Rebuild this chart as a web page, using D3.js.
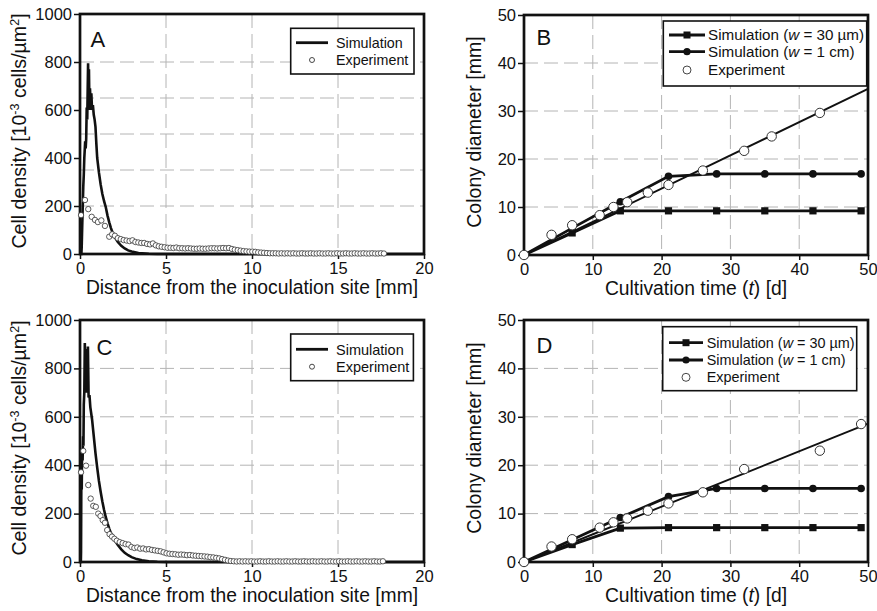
<!DOCTYPE html>
<html>
<head>
<meta charset="utf-8">
<script src="https://cdn.jsdelivr.net/npm/d3@7"></script>
<style>
  body { margin: 0; background: #fff; }
  text { font-family: "Liberation Sans", Arial, Helvetica, sans-serif; fill: #111; }
</style>
</head>
<body>
<div id="chart"></div>
<script>
// ---- data: cell density profiles (panels A, C) ----
const distTicks = [0, 5, 10, 15, 20]
const densTicks = [0, 200, 400, 600, 800, 1000]
const distGrid = [5, 10, 15]
const densGridA = [200, 350, 500, 650, 800]
const densGridC = [200, 400, 600, 800]

// [distance mm, density 10^-3 cells/um^2]
const simA = [[0,0],[0.08,0],[0.1,30],[0.13,120],[0.16,200],[0.19,280],[0.22,330],[0.25,400],[0.28,440],[0.3,470],
  [0.33,440],[0.36,480],[0.39,610],[0.42,560],[0.45,700],[0.47,795],[0.49,640],[0.52,770],[0.55,600],[0.58,690],
  [0.62,620],[0.66,670],[0.7,600],[0.75,620],[0.8,580],[0.85,560],[0.9,530],[0.95,460],[1.0,400],[1.1,340],
  [1.2,290],[1.3,250],[1.4,220],[1.5,195],[1.6,160],[1.7,132],[1.8,108],[1.9,88],[2.0,72],[2.2,50],[2.4,34],
  [2.6,23],[2.8,15],[3.0,10],[3.4,4],[4.0,1],[4.5,0],[20,0]]

const expA = [[0.06,162],[0.29,225],[0.48,187],[0.68,155],[0.87,142],[1.04,133],[1.24,140],[1.45,117],[1.7,72],[1.87,82],
  [2.03,76],[2.2,66],[2.37,62],[2.54,58],[2.71,56],[2.88,54],[3.05,57],[3.22,50],[3.39,48],[3.56,46],
  [3.73,46],[3.9,42],[4.07,40],[4.24,44],[4.41,36],[4.58,32],[4.75,30],[4.92,28],[5.09,26],[5.26,26],
  [5.43,25],[5.6,27],[5.77,24],[5.94,24],[6.11,23],[6.28,24],[6.45,23],[6.62,22],[6.79,22],[6.96,23],
  [7.13,22],[7.3,22],[7.47,23],[7.64,24],[7.81,24],[7.98,23],[8.15,24],[8.32,25],[8.49,24],[8.66,25],
  [8.83,21],[9.0,18],[9.17,16],[9.34,14],[9.51,12],[9.68,11],[9.85,10],[10.02,10],[10.19,9],[10.36,7],
  [10.53,6],[10.7,5],[10.87,4],[11.04,3],[11.21,3],[11.38,3],[11.55,2],[11.72,3],[11.89,2],[12.06,3],
  [12.23,2],[12.4,3],[12.57,2],[12.74,2],[12.91,3],[13.08,2],[13.25,2],[13.42,3],[13.59,2],[13.76,2],
  [13.93,3],[14.1,2],[14.27,2],[14.44,3],[14.61,2],[14.78,2],[14.95,3],[15.12,2],[15.29,2],[15.46,3],
  [15.63,2],[15.8,2],[15.97,3],[16.14,2],[16.31,2],[16.48,3],[16.65,2],[16.82,2],[16.99,3],[17.16,2],
  [17.33,2],[17.5,3],[17.67,2]]

const simC = [[0,0],[0.05,0],[0.06,40],[0.08,380],[0.1,300],[0.12,460],[0.15,420],[0.18,520],[0.2,480],[0.22,650],
  [0.25,700],[0.28,905],[0.3,820],[0.33,760],[0.36,700],[0.4,880],[0.43,720],[0.46,890],[0.5,680],[0.55,690],
  [0.6,640],[0.7,590],[0.8,520],[0.9,450],[1.0,390],[1.1,335],[1.2,290],[1.3,250],[1.4,215],[1.5,185],
  [1.6,160],[1.7,138],[1.8,118],[1.9,104],[2.0,92],[2.2,70],[2.4,52],[2.6,38],[2.8,28],[3.0,20],
  [3.3,12],[3.6,7],[4.0,3],[4.5,1],[5,0],[20,0]]

const expC = [[0.06,371],[0.19,459],[0.35,398],[0.48,318],[0.62,262],[0.77,232],[0.92,228],[1.06,200],[1.19,190],[1.32,173],
  [1.45,162],[1.58,132],[1.72,115],[1.86,105],[2.0,96],[2.14,88],[2.31,82],[2.48,78],[2.65,74],[2.82,72],
  [2.99,62],[3.16,58],[3.33,60],[3.5,55],[3.67,56],[3.84,52],[4.01,53],[4.18,50],[4.35,48],[4.52,46],
  [4.69,44],[4.86,40],[5.03,36],[5.2,34],[5.37,33],[5.54,32],[5.71,30],[5.88,31],[6.05,30],[6.22,28],
  [6.39,29],[6.56,27],[6.73,26],[6.9,25],[7.07,24],[7.24,23],[7.41,22],[7.58,20],[7.75,19],[7.92,17],
  [8.09,15],[8.26,12],[8.43,9],[8.6,6],[8.77,4],[8.94,3],[9.11,2],[9.28,3],[9.45,2],[9.62,3],
  [9.79,2],[9.96,3],[10.13,2],[10.3,2],[10.47,3],[10.64,2],[10.81,2],[10.98,3],[11.15,2],[11.32,2],
  [11.49,3],[11.66,2],[11.83,2],[12.0,3],[12.17,2],[12.34,2],[12.51,3],[12.68,2],[12.85,2],[13.02,3],
  [13.19,2],[13.36,2],[13.53,3],[13.7,2],[13.87,2],[14.04,3],[14.21,2],[14.38,2],[14.55,3],[14.72,2],
  [14.89,2],[15.06,3],[15.23,2],[15.4,2],[15.57,3],[15.74,2],[15.91,2],[16.08,3],[16.25,2],[16.42,2],
  [16.59,3],[16.76,2],[16.93,2],[17.1,3],[17.27,2],[17.44,2],[17.61,3]]

// ---- data: colony diameter vs time (panels B, D) ----
const dayTicks = [0, 10, 20, 30, 40, 50]
const diamTicks = [0, 10, 20, 30, 40, 50]
const dayGrid = [10, 20, 30, 40]
const diamGrid = [10, 20, 30, 40]

const simDays = [0, 7, 14, 21, 28, 35, 42, 49]
const sim30B = [0, 4.6, 9.2, 9.2, 9.2, 9.2, 9.2, 9.2]
const sim1cmB = [0, 5.6, 11.1, 16.4, 16.9, 16.9, 16.9, 16.9]
const expDaysB = [0, 4, 7, 11, 13, 15, 18, 21, 26, 32, 36, 43]
const expB = [0, 4.2, 6.2, 8.3, 10.0, 11.0, 13.0, 14.6, 17.6, 21.7, 24.7, 29.6]
const fitB = [[0, 0], [50, 34.6]]

const sim30D = [0, 3.6, 7.0, 7.1, 7.1, 7.1, 7.1, 7.1]
const sim1cmD = [0, 4.6, 9.2, 13.5, 15.2, 15.2, 15.2, 15.2]
const expDaysD = [0, 4, 7, 11, 13, 15, 18, 21, 26, 32, 43, 49]
const expD = [0, 3.2, 4.7, 7.1, 8.2, 9.0, 10.6, 12.1, 14.4, 19.2, 23.0, 28.5]
const fitD = [[0, 0], [50, 28.6]]

// ---- drawing ----
const ink = '#111'
const svg = d3.select('#chart').append('svg').attr('width', 877).attr('height', 611)

function drawGrid(g, x, y, box, gx, gy) {
  g.selectAll('.gx').data(gx).enter().append('line')
    .attr('x1', d => x(d)).attr('x2', d => x(d))
    .attr('y1', box.top).attr('y2', box.bottom)
    .attr('stroke', '#b4b4b4').attr('stroke-width', 1).attr('stroke-dasharray', '14,6')
  g.selectAll('.gy').data(gy).enter().append('line')
    .attr('x1', box.left).attr('x2', box.right)
    .attr('y1', d => y(d)).attr('y2', d => y(d))
    .attr('stroke', '#b4b4b4').attr('stroke-width', 1).attr('stroke-dasharray', '14,6')
}

function drawAxes(g, x, y, box, xt, yt) {
  const ax = g.append('g').attr('transform', `translate(0,${box.bottom})`)
    .call(d3.axisBottom(x).tickValues(xt).tickFormat(d3.format('d')).tickSize(5).tickPadding(3))
  const ay = g.append('g').attr('transform', `translate(${box.left},0)`)
    .call(d3.axisLeft(y).tickValues(yt).tickFormat(d3.format('d')).tickSize(6).tickPadding(2))
  ;[ax, ay].forEach(a => {
    a.select('.domain').remove()
    a.selectAll('line').attr('stroke', ink).attr('stroke-width', 1.5)
    a.selectAll('text').attr('font-size', 16.5).attr('fill', ink)
      .style('font-family', '"Liberation Sans", Arial, sans-serif')
  })
}

function drawFrame(g, box) {
  g.append('rect')
    .attr('x', box.left).attr('y', box.top)
    .attr('width', box.right - box.left).attr('height', box.bottom - box.top)
    .attr('fill', 'none').attr('stroke', ink).attr('stroke-width', 2.7)
}

function drawTitles(g, box, xParts, yParts, yShift, yX) {
  const xt = g.append('text')
    .attr('x', (box.left + box.right) / 2).attr('y', box.bottom + 39.5)
    .attr('text-anchor', 'middle').attr('font-size', 19.3)
  xParts.forEach(p => xt.append('tspan').text(p.t).attr('font-style', p.i ? 'italic' : null))

  const yt = g.append('text')
    .attr('transform', `translate(${yX},${(box.top + box.bottom) / 2 + yShift}) rotate(-90)`)
    .attr('text-anchor', 'middle').attr('font-size', 19.6)
  yParts.forEach(p => {
    const s = yt.append('tspan').text(p.t)
    if (p.sup) s.attr('font-size', 12.5).attr('dy', -7)
    if (p.after) s.attr('dy', 7)
  })
}

function drawLegend(g, L, entries) {
  g.append('rect').attr('x', L.x).attr('y', L.y).attr('width', L.w).attr('height', L.h)
    .attr('fill', '#fff').attr('stroke', ink).attr('stroke-width', 1.6)
  entries.forEach((e, i) => {
    const cy = L.rows[i]
    const mx = (L.sx[0] + L.sx[1]) / 2
    if (e.line) {
      g.append('line').attr('x1', L.sx[0]).attr('x2', L.sx[1]).attr('y1', cy).attr('y2', cy)
        .attr('stroke', ink).attr('stroke-width', 2.8)
    }
    if (e.mark === 'square') {
      g.append('rect').attr('x', mx - 3.5).attr('y', cy - 3.5).attr('width', 7).attr('height', 7).attr('fill', ink)
    } else if (e.mark === 'dot') {
      g.append('circle').attr('cx', mx).attr('cy', cy).attr('r', 3.6).attr('fill', ink)
    } else if (e.mark === 'open') {
      g.append('circle').attr('cx', mx).attr('cy', cy).attr('r', e.r)
        .attr('fill', '#fff').attr('stroke', '#333').attr('stroke-width', 0.9)
    }
    const t = g.append('text').attr('x', L.tx).attr('y', cy + L.fs * 0.36).attr('font-size', L.fs)
    e.parts.forEach(p => t.append('tspan').text(p.t).attr('font-style', p.i ? 'italic' : null))
  })
}

const densityYTitle = [
  { t: 'Cell density [10' }, { t: '-3', sup: true }, { t: ' cells/µm', after: true },
  { t: '2', sup: true }, { t: ']', after: true }
]

function densityPanel(box, sim, exp, gy, letter, L) {
  const g = svg.append('g')
  const x = d3.scaleLinear().domain([0, 20]).range([box.left, box.right])
  const y = d3.scaleLinear().domain([0, 1000]).range([box.bottom, box.top])

  drawGrid(g, x, y, box, distGrid, gy)

  const line = d3.line().x(d => x(d[0])).y(d => y(d[1]))
  g.append('path').datum(sim).attr('d', line)
    .attr('fill', 'none').attr('stroke', ink).attr('stroke-width', 2.6).attr('stroke-linejoin', 'miter')

  drawFrame(g, box)
  drawAxes(g, x, y, box, distTicks, densTicks)

  g.selectAll('.exp').data(exp).enter().append('circle')
    .attr('cx', d => x(d[0])).attr('cy', d => y(d[1])).attr('r', 2.7)
    .attr('fill', '#fff').attr('stroke', '#333').attr('stroke-width', 0.8)

  g.append('text').attr('x', letter.x).attr('y', letter.y).attr('font-size', 22).text(letter.t)

  drawLegend(g, L, [
    { line: true, parts: [{ t: 'Simulation' }] },
    { mark: 'open', r: 2.5, parts: [{ t: 'Experiment' }] }
  ])

  drawTitles(g, box, [{ t: 'Distance from the inoculation site [mm]' }], densityYTitle, -3, 26)
}

function diameterPanel(box, s30, s1, expDays, exp, fit, letter, L) {
  const g = svg.append('g')
  const x = d3.scaleLinear().domain([0, 50]).range([box.left, box.right])
  const y = d3.scaleLinear().domain([0, 50]).range([box.bottom, box.top])

  drawGrid(g, x, y, box, dayGrid, diamGrid)

  const line = d3.line().x(d => x(d[0])).y(d => y(d[1]))
  g.append('path').datum(fit).attr('d', line)
    .attr('fill', 'none').attr('stroke', ink).attr('stroke-width', 1.9)

  const p30 = simDays.map((d, i) => [d, s30[i]])
  const p1 = simDays.map((d, i) => [d, s1[i]])
  ;[p30, p1].forEach(p => {
    g.append('path').datum(p).attr('d', line)
      .attr('fill', 'none').attr('stroke', ink).attr('stroke-width', 2.8)
  })
  g.selectAll('.sq').data(p30).enter().append('rect')
    .attr('x', d => x(d[0]) - 3.6).attr('y', d => y(d[1]) - 3.6)
    .attr('width', 7.2).attr('height', 7.2).attr('fill', ink)
  g.selectAll('.dt').data(p1).enter().append('circle')
    .attr('cx', d => x(d[0])).attr('cy', d => y(d[1])).attr('r', 3.8).attr('fill', ink)

  drawFrame(g, box)
  drawAxes(g, x, y, box, dayTicks, diamTicks)

  g.selectAll('.exp').data(expDays).enter().append('circle')
    .attr('cx', d => x(d)).attr('cy', (d, i) => y(exp[i])).attr('r', 4.7)
    .attr('fill', '#fff').attr('stroke', '#333').attr('stroke-width', 1)

  g.append('text').attr('x', letter.x).attr('y', letter.y).attr('font-size', 22).text(letter.t)

  drawLegend(g, L, [
    { line: true, mark: 'square', parts: [{ t: 'Simulation (' }, { t: 'w', i: true }, { t: ' = 30 µm)' }] },
    { line: true, mark: 'dot', parts: [{ t: 'Simulation (' }, { t: 'w', i: true }, { t: ' = 1 cm)' }] },
    { mark: 'open', r: 4, parts: [{ t: 'Experiment' }] }
  ])

  drawTitles(g, box,
    [{ t: 'Cultivation time (' }, { t: 't', i: true }, { t: ') [d]' }],
    [{ t: 'Colony diameter [mm]' }], -3, 481)
}

densityPanel({ left: 80, right: 424, top: 14, bottom: 254 }, simA, expA, densGridA,
  { t: 'A', x: 90.5, y: 47 },
  { x: 290.7, y: 28.3, w: 123.3, h: 45.7, rows: [42.7, 60], sx: [296, 328], tx: 336, fs: 14.3 })

densityPanel({ left: 80, right: 424, top: 320, bottom: 562 }, simC, expC, densGridC,
  { t: 'C', x: 96.5, y: 355 },
  { x: 290.7, y: 334, w: 122.7, h: 46.7, rows: [349.3, 366.7], sx: [296, 328], tx: 336, fs: 14.5 })

diameterPanel({ left: 524, right: 868, top: 15, bottom: 255 }, sim30B, sim1cmB, expDaysB, expB, fitB,
  { t: 'B', x: 536.5, y: 45 },
  { x: 663.3, y: 21, w: 203.4, h: 65, rows: [35, 51.7, 70], sx: [669, 705], tx: 708, fs: 15.2 })

diameterPanel({ left: 524, right: 868, top: 320, bottom: 562 }, sim30D, sim1cmD, expDaysD, expD, fitD,
  { t: 'D', x: 536.5, y: 353 },
  { x: 662.7, y: 326.7, w: 194, h: 64, rows: [342.7, 360, 377.3], sx: [669, 703], tx: 706.7, fs: 14.4 })
</script>
</body>
</html>
